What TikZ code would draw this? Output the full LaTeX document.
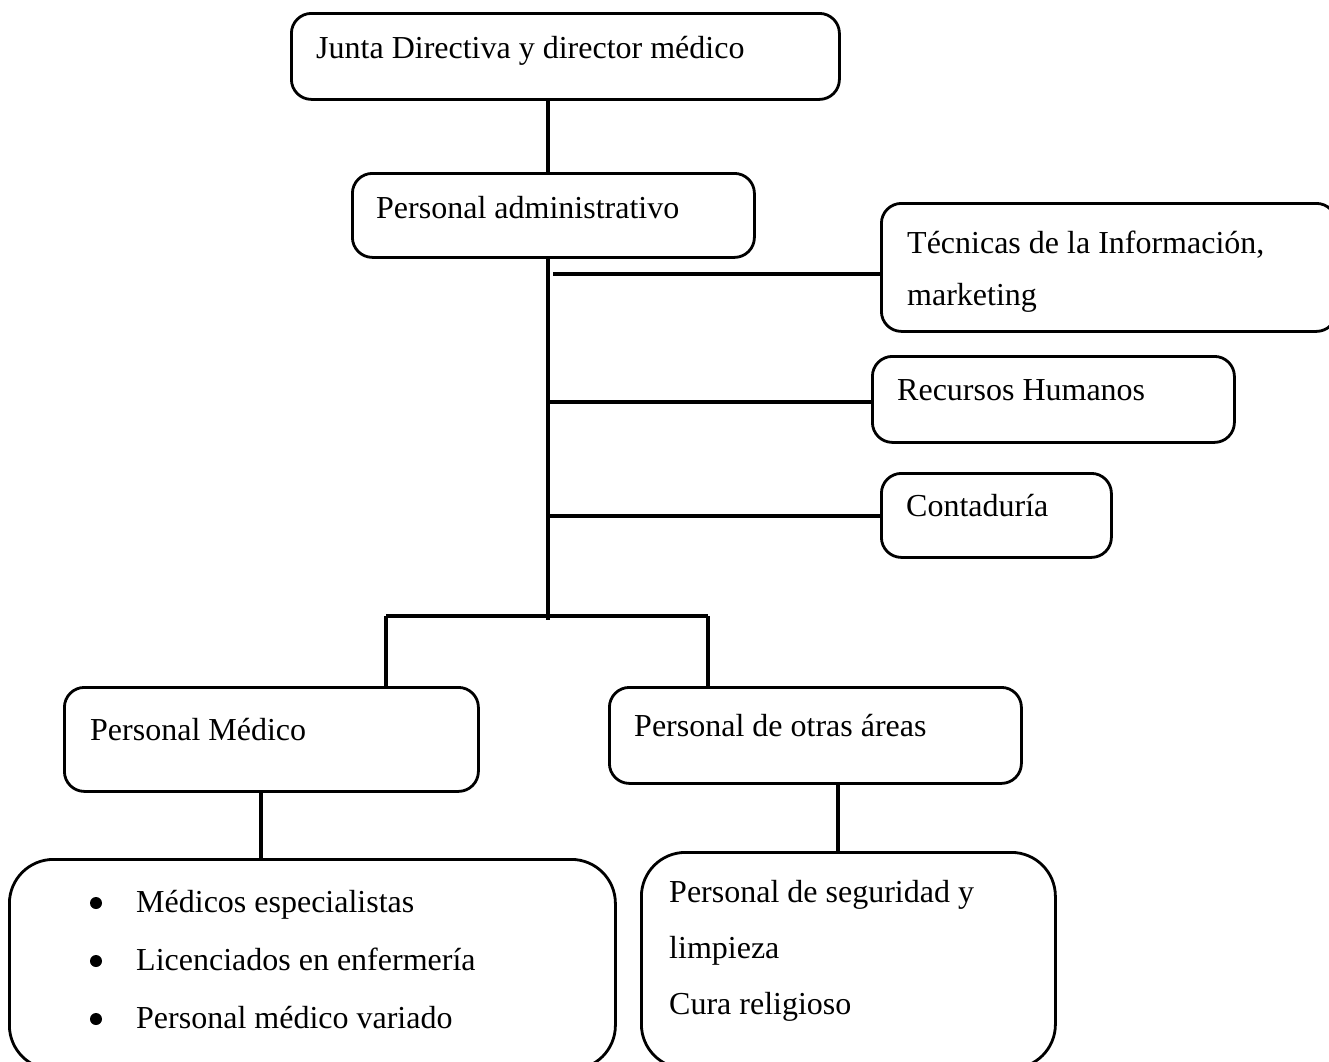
\documentclass[tikz,border=0pt]{standalone}
\usepackage{fontspec}
\setmainfont{Liberation Serif}
\begin{document}
\begin{tikzpicture}[x=1pt,y=-1pt,
  box/.style={draw=black,line width=2.8pt,rounded corners=20pt,anchor=north west,inner sep=0pt},
  bigbox/.style={box,rounded corners=44pt},
  lbl/.style={anchor=base west,inner sep=0pt,font=\fontsize{32}{40}\selectfont},
  bul/.style={fill=black},
  conn/.style={draw=black,line width=3.4pt}]
\useasboundingbox[fill=white] (0,0) rectangle (1329,1061);
% boxes
\node[box,minimum width=548pt,minimum height=86pt] (junta) at (290,12) {};
\node[box,minimum width=402pt,minimum height=84pt] (admin) at (351,172) {};
\node[box,minimum width=455pt,minimum height=128pt] (tec) at (880,202) {};
\node[box,minimum width=362pt,minimum height=86pt] (rec) at (871,355) {};
\node[box,minimum width=230pt,minimum height=84pt] (con) at (880,472) {};
\node[box,minimum width=414pt,minimum height=104pt] (med) at (63,686) {};
\node[box,minimum width=412pt,minimum height=96pt] (otr) at (608,686) {};
\node[bigbox,minimum width=606pt,minimum height=210pt] (list) at (8,858) {};
\node[bigbox,minimum width=414pt,minimum height=216pt] (seg) at (640,851) {};
% texts
\node[lbl] (tjunta) at (316,58) {Junta Directiva y director médico};
\node[lbl] (tadmin) at (376,218) {Personal administrativo};
\node[lbl] (ttec1) at (907,253) {Técnicas de la Información,};
\node[lbl] (ttec2) at (907,305) {marketing};
\node[lbl] (trec) at (897,400) {Recursos Humanos};
\node[lbl] (tcon) at (906,516) {Contaduría};
\node[lbl] (tmed) at (90,740) {Personal Médico};
\node[lbl] (totr) at (634,736) {Personal de otras áreas};
\node[lbl] (tl1) at (136,912) {Médicos especialistas};
\node[lbl] (tl2) at (136,970) {Licenciados en enfermería};
\node[lbl] (tl3) at (136,1028) {Personal médico variado};
\fill[bul] (96,903) circle (6);
\fill[bul] (96,961) circle (6);
\fill[bul] (96,1019) circle (6);
\node[lbl] (ts1) at (669,902) {Personal de seguridad y};
\node[lbl] (ts2) at (669,958) {limpieza};
\node[lbl] (ts3) at (669,1014) {Cura religioso};
% connector coordinates
\coordinate (ax) at (548,0);
\coordinate (j1) at (553,274);
\coordinate (j2) at (548,402);
\coordinate (j3) at (548,516);
\coordinate (spb) at (548,620);
\coordinate (bL) at (386,616);
\coordinate (bR) at (708,616);
\coordinate (mc) at (261,0);
\coordinate (oc) at (838,0);
% connectors
\draw[conn] (ax |- junta.south) -- (ax |- admin.north);
\draw[conn] (ax |- admin.south) -- (spb);
\draw[conn] (j1) -- (j1 -| tec.west);
\draw[conn] (j2) -- (j2 -| rec.west);
\draw[conn] (j3) -- (j3 -| con.west);
\draw[conn] (bL) -- (bR);
\draw[conn] (bL) -- (bL |- med.north);
\draw[conn] (bR) -- (bR |- otr.north);
\draw[conn] (mc |- med.south) -- (mc |- list.north);
\draw[conn] (oc |- otr.south) -- (oc |- seg.north);
\end{tikzpicture}
\end{document}
